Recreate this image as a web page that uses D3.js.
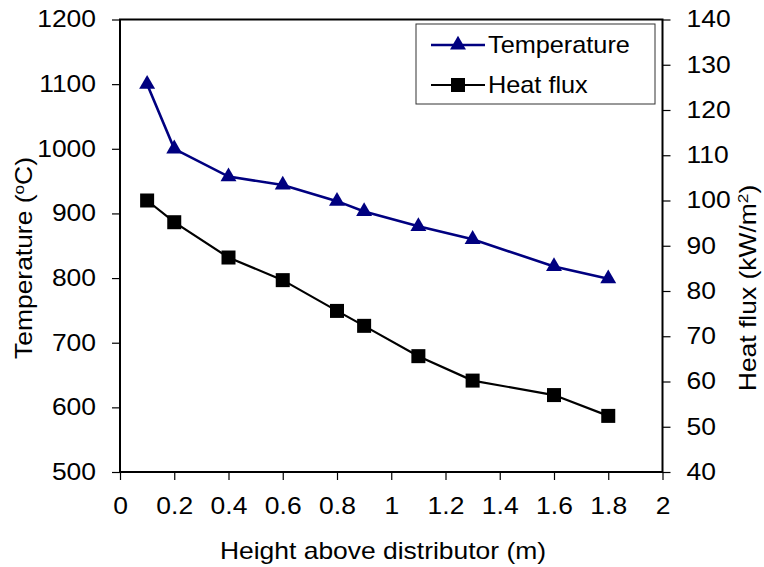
<!DOCTYPE html>
<html><head><meta charset="utf-8">
<script src="https://cdn.jsdelivr.net/npm/d3@7"></script>
<style>body{margin:0;background:#fff}svg{display:block}text{font-family:"Liberation Sans",Arial,sans-serif;fill:#000}</style>
</head><body><svg id="c" width="764" height="567"></svg>
<script>
const heights = [0.1,0.2,0.4,0.6,0.8,0.9,1.1,1.3,1.6,1.8];
const temperature = [1100,1000,957,944,919,903,880,860,818,799];
const heatFlux = [100,95.2,87.4,82.4,75.6,72.3,65.6,60.2,57,52.4];
const xTicks = [0,0.2,0.4,0.6,0.8,1,1.2,1.4,1.6,1.8,2];
const yLeftTicks = [500,600,700,800,900,1000,1100,1200];
const yRightTicks = [40,50,60,70,80,90,100,110,120,130,140];

const L=120, R=662.5, T=19.5, B=472;
const FS=23, SX=1.15;
const svg=d3.select("#c");
const x=d3.scaleLinear().domain([0,2]).range([L,R]);
const yL=d3.scaleLinear().domain([500,1200]).range([B,T]);
const yR=d3.scaleLinear().domain([40,140]).range([B,T]);

// frame
svg.append("rect").attr("x",L).attr("y",T).attr("width",R-L).attr("height",B-T)
  .attr("fill","none").attr("stroke","#000").attr("stroke-width",2);

function styleAxis(g){
  g.select(".domain").remove();
  g.selectAll(".tick line").attr("stroke","#000").attr("stroke-width",1.2);
  g.selectAll(".tick text").style("font-size",FS+"px").attr("font-family","Liberation Sans, Arial, sans-serif")
    .each(function(){
      const t=d3.select(this);
      const xx=+t.attr("x")||0;
      t.attr("x",xx/SX).attr("transform",`scale(${SX},1)`);
    });
}
const fmt=d=>String(d);
svg.append("g").attr("transform",`translate(0,${B})`)
  .call(d3.axisBottom(x).tickValues(xTicks).tickFormat(fmt).tickSizeOuter(0).tickSize(8).tickPadding(18))
  .call(styleAxis);
svg.append("g").attr("transform",`translate(${L},0)`)
  .call(d3.axisLeft(yL).tickValues(yLeftTicks).tickFormat(fmt).tickSizeOuter(0).tickSize(8).tickPadding(16))
  .call(styleAxis);
svg.append("g").attr("transform",`translate(${R},0)`)
  .call(d3.axisRight(yR).tickValues(yRightTicks).tickFormat(fmt).tickSizeOuter(0).tickSize(8).tickPadding(16))
  .call(styleAxis);

// lines
const lineT=d3.line().x((d,i)=>x(heights[i])).y(d=>yL(d));
const lineH=d3.line().x((d,i)=>x(heights[i])).y(d=>yR(d));
svg.append("path").datum(temperature).attr("d",lineT).attr("fill","none").attr("stroke","#000080").attr("stroke-width",2.6);
svg.append("path").datum(heatFlux).attr("d",lineH).attr("fill","none").attr("stroke","#000").attr("stroke-width",2.2);

const tri=d3.symbol().type(d3.symbolTriangle).size(110);
svg.append("g").selectAll("path").data(temperature).join("path")
  .attr("d",tri).attr("transform",(d,i)=>`translate(${x(heights[i])},${yL(d)})`).attr("fill","#000080");
svg.append("g").selectAll("rect").data(heatFlux).join("rect")
  .attr("x",(d,i)=>x(heights[i])-7).attr("y",d=>yR(d)-7).attr("width",14).attr("height",14).attr("fill","#000");

// axis titles
svg.append("text").attr("transform",`translate(383,559) scale(${SX},1)`).attr("text-anchor","middle").style("font-size",FS+"px")
  .text("Height above distributor (m)");
const tl=svg.append("text").attr("transform",`translate(32,258) rotate(-90) scale(${SX},1)`).attr("text-anchor","middle").style("font-size",FS+"px");
tl.append("tspan").text("Temperature (");
tl.append("tspan").attr("dy",-8).style("font-size","15px").text("o");
tl.append("tspan").attr("dy",8).text("C)");
const tr=svg.append("text").attr("transform",`translate(756,288) rotate(-90) scale(${SX},1)`).attr("text-anchor","middle").style("font-size",FS+"px");
tr.append("tspan").text("Heat flux (kW/m");
tr.append("tspan").attr("dy",-8).style("font-size","15px").text("2");
tr.append("tspan").attr("dy",8).text(")");

// legend
const lg=svg.append("g");
lg.append("rect").attr("x",416).attr("y",24).attr("width",239).attr("height",80).attr("fill","#fff").attr("stroke","#333").attr("stroke-width",1);
const items=[{name:"Temperature",color:"#000080",sym:"tri",y:45},{name:"Heat flux",color:"#000",sym:"sq",y:85}];
items.forEach(it=>{
  lg.append("line").attr("x1",431).attr("x2",485).attr("y1",it.y).attr("y2",it.y).attr("stroke",it.color).attr("stroke-width",it.sym==="tri"?2.6:2.2);
  if(it.sym==="tri") lg.append("path").attr("d",tri).attr("transform",`translate(458,${it.y})`).attr("fill",it.color);
  else lg.append("rect").attr("x",451).attr("y",it.y-7).attr("width",14).attr("height",14).attr("fill",it.color);
  lg.append("text").attr("transform",`translate(488,${it.y+7.5}) scale(1.1,1)`).style("font-size",FS+"px").text(it.name);
});
</script></body></html>
